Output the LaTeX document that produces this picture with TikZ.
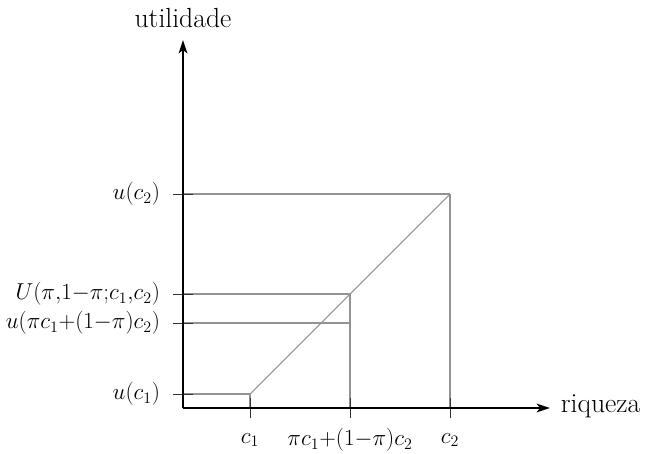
\documentclass[tikz,border=0pt]{standalone}
\usetikzlibrary{arrows.meta}
\begin{document}
\begin{tikzpicture}[x=0.75pt,y=-0.75pt,
  axis/.style={line width=1.5pt,-{Stealth[length=10pt,width=6.5pt,inset=2.5pt]}},
  guide/.style={gray!85,line width=0.8pt},
  tick/.style={black!80,line width=0.6pt},
  lab/.style={font=\LARGE,inner sep=2pt},
  word/.style={font=\huge,inner sep=2pt}]
\useasboundingbox (0,0) rectangle (655,453);
\coordinate (O) at (183,408);
\coordinate (ytop) at (183,40);
\coordinate (xend) at (550,408);
\node[word] (ylab) at (183,18) {utilidade};
\node[word,anchor=west] (xlab) at (558,406) {riqueza};
% points
\coordinate (A) at (250,394);
\coordinate (B) at (350,294);
\coordinate (C) at (450,194);
% axis feet
\coordinate (Ay) at (183,394);
\coordinate (By) at (183,294);
\coordinate (Dy) at (183,323);
\coordinate (Cy) at (183,194);
\coordinate (Ax) at (250,408);
\coordinate (Bx) at (350,408);
\coordinate (Cx) at (450,408);
\coordinate (D) at (350,323);
% guides
\draw[guide] (Ay) -- (A);
\draw[guide] (By) -- (B);
\draw[guide] (Dy) -- (D);
\draw[guide] (Cy) -- (C);
\draw[guide] (A) -- (Ax);
\draw[guide] (B) -- (Bx);
\draw[guide] (C) -- (Cx);
\draw[guide] (A) -- (C);
% ticks
\foreach \p in {Ay,By,Dy,Cy} \draw[tick] ([xshift=-10*0.75pt]\p) -- ([xshift=10*0.75pt]\p);
\foreach \p in {Ax,Bx,Cx} \draw[tick] ([yshift=10*0.75pt]\p) -- ([yshift=-10*0.75pt]\p);
% axes
\draw[axis] (O) -- (ytop);
\draw[axis] (O) -- (xend);
% labels
\node[lab,anchor=east] (lc2) at (163,194) {$u(c_2)$};
\node[lab,anchor=east] (lU) at (163,294) {$U(\pi{,}1{-}\pi{;}c_1{,}c_2)$};
\node[lab,anchor=east] (lD) at (163,323) {$u(\pi c_1{+}(1{-}\pi)c_2)$};
\node[lab,anchor=east] (lc1) at (163,394) {$u(c_1)$};
\node[lab] (xc1) at (250,440) {$c_1$};
\node[lab] (xB) at (350,440) {$\pi c_1{+}(1{-}\pi)c_2$};
\node[lab] (xc2) at (450,440) {$c_2$};
\end{tikzpicture}
\end{document}
